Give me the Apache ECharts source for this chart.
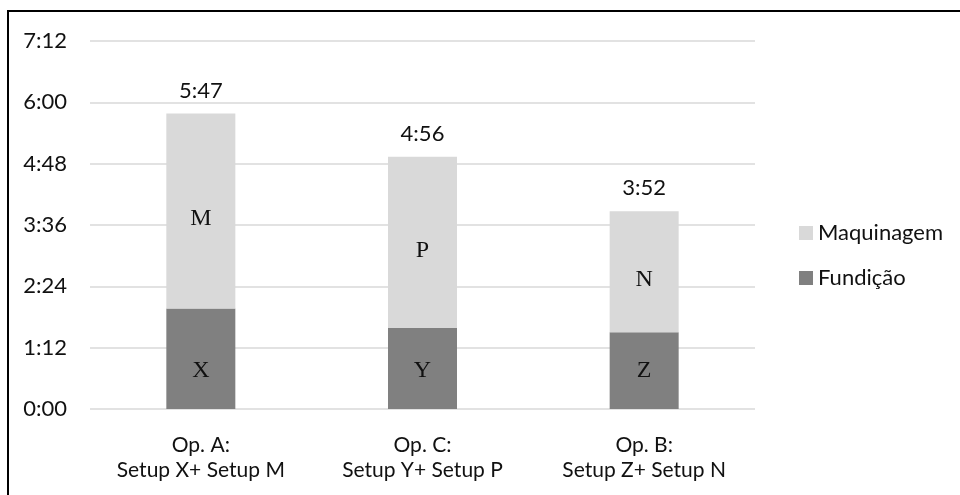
<!DOCTYPE html>
<html>
<head>
<meta charset="utf-8">
<script src="https://cdn.jsdelivr.net/npm/echarts@6/dist/echarts.min.js"></script>
<style>
  html, body { margin: 0; padding: 0; background: #fff; }
  #chart { width: 960px; height: 495px; }
</style>
</head>
<body>
<div id="chart"></div>
<script>
// categories and values (minutes)
const categories = ['Op. A:\nSetup X+ Setup M', 'Op. C:\nSetup Y+ Setup P', 'Op. B:\nSetup Z+ Setup N']
const fundicao = [118, 95, 90]
const maquinagem = [229, 201, 142]
const fundicaoTags = ['X', 'Y', 'Z']
const maquinagemTags = ['M', 'P', 'N']
const yTicks = { min: 0, max: 432, step: 72 }

const fmt = m => Math.floor(m / 60) + ':' + String(Math.round(m % 60)).padStart(2, '0')
const totals = fundicao.map((v, i) => v + maquinagem[i])

const chart = echarts.init(document.getElementById('chart'))
const font = 'Lato, "Open Sans", sans-serif'
const tagStyle = { color: '#111', fontSize: 24, fontFamily: '"Liberation Serif", "DejaVu Serif", serif' }

chart.setOption({
  animation: false,
  backgroundColor: '#fff',
  graphic: [{
    type: 'rect', silent: true,
    shape: { x: 8, y: 11, width: 1000, height: 1000 },
    style: { fill: 'none', stroke: '#000', lineWidth: 2 }
  }],
  grid: { left: 90, right: 205, top: 41, bottom: 86 },
  legend: {
    orient: 'vertical', left: 794, top: 217, itemWidth: 14, itemHeight: 14, itemGap: 23,
    icon: 'rect',
    textStyle: { color: '#111', fontSize: 22, fontFamily: font },
    data: ['Maquinagem', 'Fundição']
  },
  xAxis: {
    type: 'category', data: categories,
    axisLine: { show: false }, axisTick: { show: false },
    axisLabel: { color: '#111', fontSize: 21, fontFamily: font, lineHeight: 25, margin: 24 }
  },
  yAxis: {
    type: 'value', min: yTicks.min, max: yTicks.max, interval: yTicks.step,
    axisLabel: { color: '#111', fontSize: 22, fontFamily: font, margin: 23, formatter: v => fmt(v) },
    splitLine: { lineStyle: { color: '#d9d9d9', width: 1.5 } }
  },
  series: [
    {
      name: 'Fundição', type: 'bar', stack: 't', barWidth: 69,
      itemStyle: { color: '#808080' },
      label: { show: true, position: 'insideBottom', distance: 26, ...tagStyle,
        formatter: p => fundicaoTags[p.dataIndex] },
      data: fundicao
    },
    {
      name: 'Maquinagem', type: 'bar', stack: 't', barWidth: 69,
      itemStyle: { color: '#d9d9d9' },
      label: { show: true, position: 'inside', offset: [0, 8], ...tagStyle,
        formatter: p => maquinagemTags[p.dataIndex] },
      data: maquinagem
    },
    {
      // invisible carrier for total labels above each stack
      name: 'total', type: 'bar', stack: 't', barWidth: 69,
      itemStyle: { color: 'transparent' }, silent: true,
      label: { show: true, position: 'top', distance: 12, color: '#111', fontSize: 22, fontFamily: font,
        formatter: p => fmt(totals[p.dataIndex]) },
      data: totals.map(() => 0)
    }
  ]
})
</script>
</body>
</html>
